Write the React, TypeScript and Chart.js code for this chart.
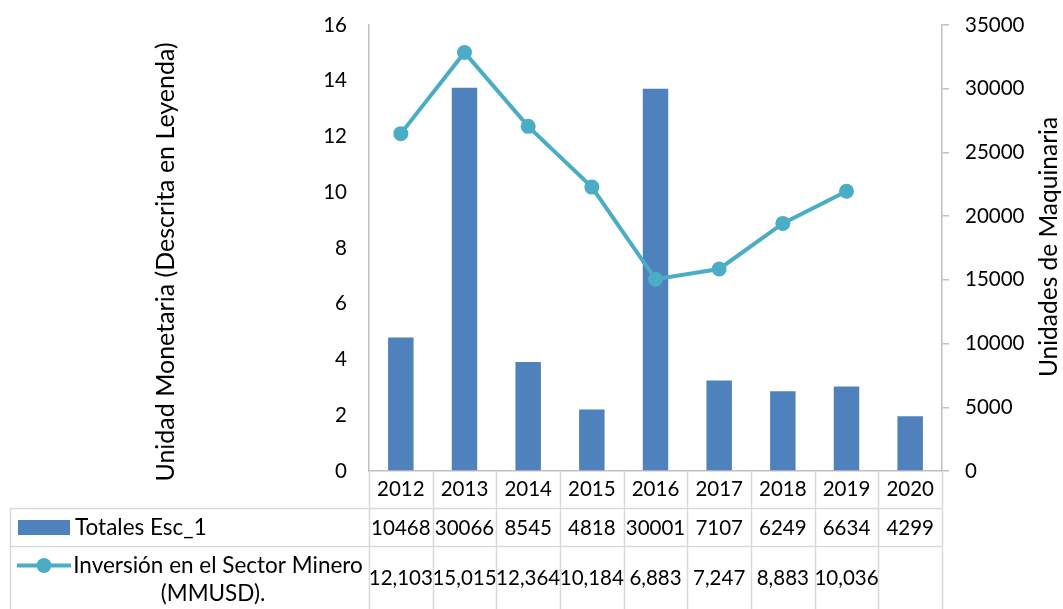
import React, { useEffect, useRef } from "react";
import { Chart, registerables } from "chart.js";

Chart.register(...registerables);

const years = ["2012", "2013", "2014", "2015", "2016", "2017", "2018", "2019", "2020"];
const totalesEsc1 = [10468, 30066, 8545, 4818, 30001, 7107, 6249, 6634, 4299];
const inversionMinera = [12.103, 15.015, 12.364, 10.184, 6.883, 7.247, 8.883, 10.036, null];
const leftTicksMax = 16;
const rightTicksMax = 35000;

const barLabel = "Totales Esc_1";
const lineLabelLines = ["Inversión en el Sector Minero", "(MMUSD)."];
const leftTitle = "Unidad Monetaria (Descrita en Leyenda)";
const rightTitle = "Unidades de Maquinaria";

const BAR_COLOR = "#4F81BD";
const LINE_COLOR = "#4BACC6";
const AXIS_COLOR = "#BFBFBF";
const TABLE_COLOR = "#D9D9D9";
const FONT = "Lato";

const W = 1063;
const H = 609;

const fmtInv = (v: number | null) => (v == null ? "" : v.toFixed(3).replace(".", ","));

const tablePlugin = {
  id: "dataTable",
  afterDraw(chart: any) {
    const ctx = chart.ctx as CanvasRenderingContext2D;
    const x = chart.scales.x;
    const area = chart.chartArea;
    const n = years.length;
    const colW = (area.right - area.left) / n;
    const top = area.bottom;
    const row1 = top + 37;
    const row2 = row1 + 38;
    const bottom = H;
    const tableLeft = 10;

    ctx.save();
    ctx.strokeStyle = TABLE_COLOR;
    ctx.lineWidth = 1.5;
    for (let i = 0; i <= n; i++) {
      const px = Math.round(area.left + i * colW) + 0.5;
      ctx.beginPath();
      ctx.moveTo(px, top);
      ctx.lineTo(px, bottom);
      ctx.stroke();
    }
    [row1, row2].forEach((y) => {
      ctx.beginPath();
      ctx.moveTo(tableLeft, Math.round(y) + 0.5);
      ctx.lineTo(area.right, Math.round(y) + 0.5);
      ctx.stroke();
    });
    ctx.beginPath();
    ctx.moveTo(tableLeft + 0.5, row1);
    ctx.lineTo(tableLeft + 0.5, bottom);
    ctx.stroke();

    ctx.fillStyle = "#000";
    ctx.font = `20.5px ${FONT}`;
    ctx.textAlign = "center";
    ctx.textBaseline = "middle";
    const r1c = (row1 + row2) / 2 + 1;
    const r2c = (row2 + bottom) / 2 + 1;
    for (let i = 0; i < n; i++) {
      const cx = x.getPixelForValue(i);
      ctx.fillText(String(totalesEsc1[i]), cx, r1c);
      ctx.fillText(fmtInv(inversionMinera[i]), cx, r2c);
    }

    ctx.fillStyle = BAR_COLOR;
    ctx.fillRect(18, r1c - 8, 52, 15);
    ctx.strokeStyle = LINE_COLOR;
    ctx.lineWidth = 4;
    ctx.beginPath();
    ctx.moveTo(17, r2c - 13);
    ctx.lineTo(71, r2c - 13);
    ctx.stroke();
    ctx.fillStyle = LINE_COLOR;
    ctx.beginPath();
    ctx.arc(44, r2c - 13, 7.5, 0, Math.PI * 2);
    ctx.fill();

    ctx.fillStyle = "#000";
    ctx.font = `22.5px ${FONT}`;
    ctx.textAlign = "left";
    ctx.fillText(barLabel, 75, r1c);
    ctx.textAlign = "center";
    ctx.fillText(lineLabelLines[0], 218, r2c - 13);
    ctx.fillText(lineLabelLines[1], 213, r2c + 15);

    ctx.save();
    ctx.font = `25px ${FONT}`;
    ctx.translate(166, 262);
    ctx.rotate(-Math.PI / 2);
    ctx.fillText(leftTitle, 0, 0);
    ctx.restore();
    ctx.save();
    ctx.font = `24.5px ${FONT}`;
    ctx.translate(1049, 247);
    ctx.rotate(-Math.PI / 2);
    ctx.fillText(rightTitle, 0, 0);
    ctx.restore();
    ctx.restore();
  },
};

export default function App() {
  const ref = useRef<HTMLCanvasElement | null>(null);
  useEffect(() => {
    if (!ref.current) return;
    const chart = new Chart(ref.current, {
      type: "bar",
      data: {
        labels: years,
        datasets: [
          {
            type: "line",
            label: lineLabelLines.join(" "),
            data: inversionMinera,
            yAxisID: "y",
            borderColor: LINE_COLOR,
            backgroundColor: LINE_COLOR,
            borderWidth: 4,
            pointRadius: 7.5,
            pointBorderWidth: 0,
            pointBackgroundColor: LINE_COLOR,
            tension: 0,
            spanGaps: false,
            order: 0,
          } as any,
          {
            type: "bar",
            label: barLabel,
            data: totalesEsc1,
            yAxisID: "y1",
            backgroundColor: BAR_COLOR,
            barPercentage: 0.4,
            categoryPercentage: 1,
            order: 1,
          },
        ],
      },
      options: {
        responsive: false,
        animation: false,
        layout: { padding: { top: 25, left: 0, right: 0, bottom: 0 } },
        plugins: { legend: { display: false }, tooltip: { enabled: false } },
        scales: {
          x: {
            type: "category",
            offset: true,
            grid: { display: false, drawTicks: false },
            border: { display: true, color: AXIS_COLOR, width: 1.5 },
            ticks: {
              color: "#000",
              font: { family: FONT, size: 20.5 },
              padding: 6,
              maxRotation: 0,
              autoSkip: false,
            },
            afterFit: (s: any) => {
              s.height = 138;
              s.paddingLeft = 0;
              s.paddingRight = 0;
            },
          },
          y: {
            position: "left",
            min: 0,
            max: leftTicksMax,
            grid: { display: false, drawTicks: false },
            border: { display: true, color: AXIS_COLOR, width: 1.5 },
            ticks: {
              stepSize: 2,
              color: "#000",
              font: { family: FONT, size: 20.5 },
              padding: 22,
            },
            afterFit: (s: any) => {
              s.width = 369;
              s.paddingTop = 0;
              s.paddingBottom = 0;
            },
          },
          y1: {
            position: "right",
            min: 0,
            max: rightTicksMax,
            grid: {
              display: true,
              drawOnChartArea: false,
              drawTicks: true,
              tickLength: 7,
              color: AXIS_COLOR,
              lineWidth: 1.5,
            },
            border: { display: true, color: AXIS_COLOR, width: 1.5 },
            ticks: {
              stepSize: 5000,
              color: "#000",
              font: { family: FONT, size: 20.5 },
              padding: 16,
              callback: (v: any) => String(v),
            },
            afterFit: (s: any) => {
              s.width = 121;
              s.paddingTop = 0;
              s.paddingBottom = 0;
            },
          },
        },
      },
      plugins: [tablePlugin],
    });
    return () => chart.destroy();
  }, []);
  return (
    <div style={{ position: "absolute", left: 0, top: 0, width: W, height: H, background: "#fff" }}>
      <canvas ref={ref} width={W} height={H} style={{ display: "block" }} />
    </div>
  );
}
